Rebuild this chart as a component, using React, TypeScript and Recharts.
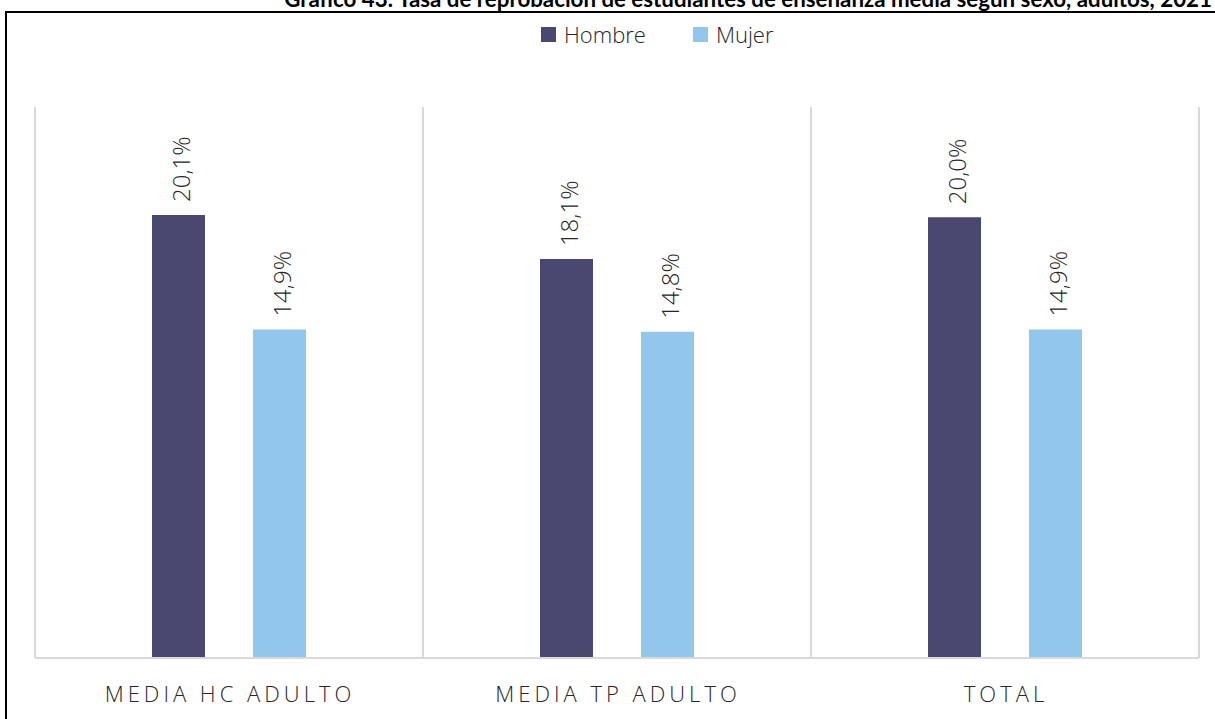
import React from 'react';
import { BarChart, Bar, XAxis, YAxis, LabelList, Legend, ReferenceLine } from 'recharts';

const categories = ['MEDIA HC ADULTO', 'MEDIA TP ADULTO', 'TOTAL'];
const hombre = [20.1, 18.1, 20.0];
const mujer = [14.9, 14.8, 14.9];
const seriesNames = ['Hombre', 'Mujer'];
const colors = ['#4A4870', '#92C6EA'];
const title = 'Gráfico 43: Tasa de reprobación de estudiantes de enseñanza media según sexo, adultos, 2021';

const data = categories.map((c, i) => ({ name: c, hombre: hombre[i], mujer: mujer[i] }));

const FONT = '"Open Sans", "DejaVu Sans", sans-serif';

const fmt = (v: number) => v.toFixed(1).replace('.', ',') + '%';

const RotLabel = (props: any) => {
  const { x, y, width, value } = props;
  const cx = x + width / 2 + 2;
  const cy = y - 13;
  return (
    <text
      x={cx}
      y={cy}
      transform={`rotate(-90, ${cx}, ${cy})`}
      textAnchor="start"
      dominantBaseline="central"
      fontFamily={FONT}
      fontWeight={300}
      fontSize={24}
      fill="#262626"
    >
      {fmt(value)}
    </text>
  );
};

const Tick = (props: any) => {
  const { x, y, payload } = props;
  return (
    <text
      x={x + 1}
      y={y + 36}
      textAnchor="middle"
      fontFamily={FONT}
      fontWeight={300}
      fontSize={22}
      letterSpacing={4}
      fill="#262626"
    >
      {payload.value}
    </text>
  );
};

const LegendContent = () => (
  <div style={{ display: 'flex', alignItems: 'center', marginLeft: 541, fontFamily: FONT, fontWeight: 300, fontSize: 22, color: '#262626' }}>
    {seriesNames.map((n, i) => (
      <div key={n} style={{ display: 'flex', alignItems: 'center', marginRight: 47 }}>
        <span style={{ display: 'inline-block', width: 15, height: 15, background: colors[i], marginRight: 8 }} />
        <span style={{ lineHeight: '28px' }}>{n}</span>
      </div>
    ))}
  </div>
);

export default function App() {
  return (
    <div style={{ position: 'fixed', left: 0, top: 0, width: 1215, height: 719, overflow: 'hidden', background: '#fff' }}>
      <div
        style={{
          position: 'absolute',
          left: 5,
          top: 11,
          width: 1300,
          height: 800,
          border: '2px solid #000',
          boxSizing: 'border-box',
        }}
      />
      <div
        style={{
          position: 'absolute',
          right: 3,
          top: -14,
          whiteSpace: 'nowrap',
          fontFamily: 'Lato, "Open Sans", sans-serif',
          fontWeight: 700,
          fontSize: 22.3,
          lineHeight: '26px',
          color: '#000',
        }}
      >
        {title}
      </div>
      <div style={{ position: 'absolute', left: 0, top: 0 }}>
        <BarChart
          width={1215}
          height={719}
          data={data}
          margin={{ top: 79, left: 35, right: 16, bottom: 31 }}
          barSize={53}
          barGap={48}
        >
          <XAxis
            dataKey="name"
            axisLine={{ stroke: '#D9D9D9', strokeWidth: 2 }}
            tickLine={false}
            tick={<Tick />}
            interval={0}
          />
          <YAxis hide domain={[0, 25]} />
          {categories.map((c) => (
            <ReferenceLine key={c} x={c} position="start" stroke="#D9D9D9" strokeWidth={2} />
          ))}
          <ReferenceLine x={categories[categories.length - 1]} position="end" stroke="#D9D9D9" strokeWidth={2} />
          <Legend verticalAlign="top" wrapperStyle={{ top: 20, left: 0, width: 1215 }} content={<LegendContent />} />
          <Bar dataKey="hombre" name={seriesNames[0]} fill={colors[0]} isAnimationActive={false}>
            <LabelList dataKey="hombre" content={<RotLabel />} />
          </Bar>
          <Bar dataKey="mujer" name={seriesNames[1]} fill={colors[1]} isAnimationActive={false}>
            <LabelList dataKey="mujer" content={<RotLabel />} />
          </Bar>
        </BarChart>
      </div>
    </div>
  );
}
